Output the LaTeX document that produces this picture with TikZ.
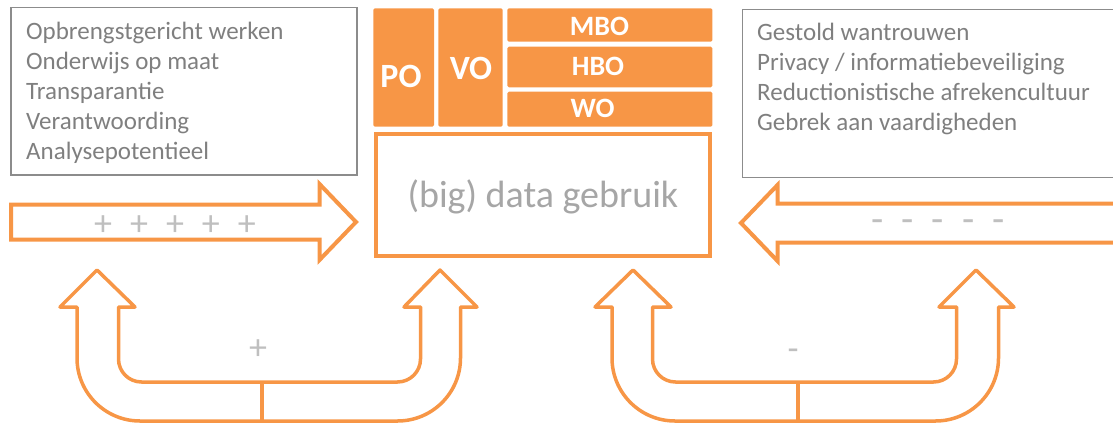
\documentclass[tikz,border=0pt]{standalone}
\usepackage{fontspec}
\setmainfont{Carlito}
\definecolor{oranje}{HTML}{F79646}
\definecolor{tekstgrijs}{HTML}{7F7F7F}
\definecolor{kadergrijs}{HTML}{8C8C8C}
\definecolor{datagrijs}{HTML}{A6A6A6}
\definecolor{tekengrijs}{HTML}{BFBFBF}
\begin{document}
\begin{tikzpicture}[x=1pt, y=-1pt,
  lijst/.style={draw=kadergrijs, line width=1.5pt, outer sep=0pt, inner sep=0pt, anchor=north west},
  lijsttekst/.style={text=tekstgrijs, align=left, anchor=north west, inner sep=0pt, font=\fontsize{25}{30}\selectfont},
  cel/.style={fill=oranje, rounded corners=1.5pt, outer sep=0pt, inner sep=0pt, anchor=north west},
  celtekst/.style={text=white, inner sep=0pt, font=\bfseries\fontsize{28}{30}\selectfont},
  pijl/.style={draw=oranje, line width=4pt, fill=white},
  bocht/.style={draw=oranje, line width=3.5pt, line join=round},
  teken/.style={text=tekengrijs, inner sep=0pt, anchor=base, font=\fontsize{36}{40}\selectfont}]
\useasboundingbox (0,0) rectangle (1113,423);
\clip (0,0) rectangle (1113,423);
% lijsten links en rechts
\node[lijst, minimum width=346pt, minimum height=167.5pt] (voor) at (11,7.5) {};
\node[lijsttekst] (voortekst) at (26,21.5) {Opbrengstgericht werken\\Onderwijs op maat\\Transparantie\\Verantwoording\\Analysepotentieel};
\node[lijst, minimum width=390pt, minimum height=168.4pt] (tegen) at (742.7,9.3) {};
\node[lijsttekst] (tegentekst) at (757,22.5) {Gestold wantrouwen\\Privacy / informatiebeveiliging\\Reductionistische afrekencultuur\\Gebrek aan vaardigheden};
% onderwijssectoren
\node[cel, minimum width=60.7pt, minimum height=118.4pt] (po) at (373.3,8.3) {};
\node[cel, minimum width=64.4pt, minimum height=118.4pt] (vo) at (438.3,8.3) {};
\node[cel, minimum width=205pt, minimum height=33.4pt] (mbo) at (507.3,8.3) {};
\node[cel, minimum width=205pt, minimum height=40.6pt] (hbo) at (507.3,46.7) {};
\node[cel, minimum width=205pt, minimum height=35pt] (wo) at (507.3,91.7) {};
\node[celtekst, font=\bfseries\fontsize{34}{36}\selectfont] (potekst) at (401,76) {PO};
\node[celtekst, font=\bfseries\fontsize{34}{36}\selectfont] (votekst) at (471,68) {VO};
\node[celtekst] (mbotekst) at (599.5,26.5) {MBO};
\node[celtekst] (hbotekst) at (598,66.5) {HBO};
\node[celtekst] (wotekst) at (592.5,108.5) {WO};
% data gebruik
\node[draw=oranje, line width=4pt, outer sep=0pt, anchor=north west, minimum width=334.2pt, minimum height=121.5pt, text height=33pt, text=datagrijs, font=\fontsize{38}{42}\selectfont] (data) at (375.8,134) {(big) data gebruik};
% pijlen naar data
\draw[pijl] (11,204.5) -- (319.5,204.5) -- (319.5,184) -- (356,222) -- (319.5,260) -- (319.5,239.5) -- (11,239.5) -- cycle;
\node[teken] (plussen) at (175,235.5) {\spaceskip=18pt\relax + + + + +};
\draw[pijl] (1120,203.5) -- (777.5,203.5) -- (777.5,185) -- (741,223) -- (777.5,261) -- (777.5,242.5) -- (1120,242.5);
\node[teken, font=\fontsize{40}{42}\selectfont] (minnen) at (938,232) {\spaceskip=18pt\relax - - - - -};
% terugkoppeling
\draw[bocht] (97,270) -- (135,307) -- (118.5,307) -- (118.5,359) arc[start angle=180, end angle=90, radius=23] -- (397.5,382) arc[start angle=90, end angle=0, radius=23] -- (420.5,307) -- (404,307) -- (440,270) -- (477,307) -- (460.5,307) -- (460.5,358) arc[start angle=0, end angle=90, radius=63] -- (140,421) arc[start angle=90, end angle=180, radius=63] -- (77,307) -- (60,307) -- cycle;
\draw[bocht] (262,382) -- (262,421);
\node[teken] (plus) at (258,359.5) {+};
\draw[bocht] (633,270) -- (671,307) -- (652.5,307) -- (652.5,359) arc[start angle=180, end angle=90, radius=23] -- (933.5,382) arc[start angle=90, end angle=0, radius=23] -- (956.5,307) -- (939,307) -- (976,270) -- (1014,307) -- (998.5,307) -- (998.5,358) arc[start angle=0, end angle=90, radius=63] -- (675,421) arc[start angle=90, end angle=180, radius=63] -- (612,307) -- (595,307) -- cycle;
\draw[bocht] (798,382) -- (798,421);
\node[teken] (min) at (793,360) {-};
\end{tikzpicture}
\end{document}
